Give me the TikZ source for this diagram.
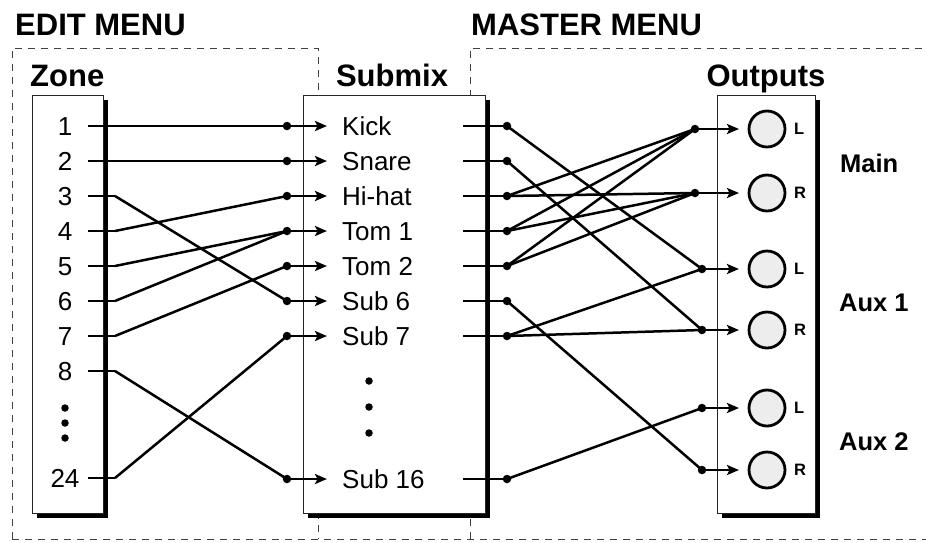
\documentclass[tikz,border=0pt]{standalone}
\usepackage{fontspec}
\setmainfont{Liberation Sans}
\usetikzlibrary{arrows.meta,shadows}
\begin{document}
\begin{tikzpicture}[x=1pt,y=-1pt,
  dashline/.style={draw=black!75, line width=0.9pt, dash pattern=on 7pt off 6pt},
  panel/.style={draw=black!85, line width=1pt, fill=white, anchor=north west, inner sep=0pt,
    drop shadow={shadow xshift=4.5pt, shadow yshift=-4.5pt, fill=black, opacity=1}},
  wire/.style={line width=2.5pt},
  arr/.style={line width=2.5pt, -{Stealth[length=12pt,width=10pt,inset=2.5pt]}},
  dot/.style={circle, fill=black, inner sep=0pt, minimum size=8.5pt},
  vdot/.style={circle, fill=black, inner sep=0pt, minimum size=7.5pt},
  jack/.style={circle, draw=black, line width=2.8pt, fill=black!7, inner sep=0pt, minimum size=36pt},
  num/.style={font=\fontsize{26}{28}\selectfont, inner sep=0pt, anchor=base},
  lbl/.style={font=\fontsize{26}{28}\selectfont, inner sep=0pt, anchor=base west},
  head/.style={font=\bfseries\fontsize{31}{33}\selectfont, inner sep=0pt},
  grp/.style={font=\bfseries\fontsize{25.5}{27}\selectfont, inner sep=0pt, anchor=base west},
  lr/.style={font=\bfseries\fontsize{16.5}{18}\selectfont, inner sep=0pt, anchor=base west}]
\useasboundingbox (0,0) rectangle (926,542);
% dashed menu frames
\coordinate (eBL) at (12,539); \coordinate (eTL) at (12,48);
\coordinate (eTR) at (318,48); \coordinate (eBR) at (318,539);
\coordinate (mBL) at (470,539); \coordinate (mTL) at (470,48);
\coordinate (mTR) at (926,48); \coordinate (mBR) at (926,539);
\draw[dashline] (eBL) -- (eTL) -- (eTR) -- (eBR);
\draw[dashline] (mBL) -- (mTL) -- (mTR);
\draw[dashline] (eBL) -- (mBR);
% headings
\node[head, anchor=base west] (editmenu) at (15,35) {EDIT MENU};
\node[head, anchor=base west] (mastermenu) at (471,35) {MASTER MENU};
\node[head, anchor=base west] (zonehead) at (30,86) {Zone};
\node[head, anchor=base] (submixhead) at (392,86.5) {Submix};
\node[head, anchor=base] (outhead) at (766,86) {Outputs};
% panels
\node[panel, minimum width=71pt, minimum height=418.3pt] (zonebox) at (31.7,95) {};
\node[panel, minimum width=182pt, minimum height=418.3pt] (submixbox) at (302.7,95) {};
\node[panel, minimum width=97.7pt, minimum height=418.3pt] (outbox) at (717.3,95) {};
% zones
\foreach \n/\y in {1/126,2/161,3/196,4/231,5/266,6/301,7/336,8/371,24/478}{
  \node[num] (zn\n) at (65,\y+9.3) {\n};
  \coordinate (zs\n) at (88,\y);
  \coordinate (ze\n) at (115,\y);
  \draw[wire] (zs\n) -- (ze\n);
}
\node[vdot] (zd1) at (65,408) {};
\node[vdot] (zd2) at (65,423) {};
\node[vdot] (zd3) at (65,438) {};
% submix channels
\foreach \i/\t/\y in {1/Kick/126,2/Snare/161,3/Hi-hat/196,4/Tom 1/231,5/Tom 2/266,6/Sub 6/301,7/Sub 7/336,16/Sub 16/479}{
  \node[dot] (sin\i) at (287,\y) {};
  \coordinate (sarr\i) at (327,\y);
  \draw[arr] (sin\i.center) -- (sarr\i);
  \node[lbl] (sl\i) at (342,\y+9.3) {\t};
  \coordinate (sos\i) at (463,\y);
  \node[dot] (sout\i) at (507,\y) {};
  \draw[wire] (sos\i) -- (sout\i.center);
}
\node[vdot] (sd1) at (369,381) {};
\node[vdot] (sd2) at (369,407) {};
\node[vdot] (sd3) at (369,433) {};
% zone -> submix
\draw[wire] (ze1) -- (sin1.center);
\draw[wire] (ze2) -- (sin2.center);
\draw[wire] (ze3) -- (sin6.center);
\draw[wire] (ze4) -- (sin3.center);
\draw[wire] (ze5) -- (sin4.center);
\draw[wire] (ze6) -- (sin4.center);
\draw[wire] (ze7) -- (sin5.center);
\draw[wire] (ze8) -- (sin16.center);
\draw[wire] (ze24) -- (sin7.center);
% outputs
\foreach \k/\x/\y/\s in {ML/695/129/L,MR/695/193/R,AL/702/269/L,AR/702/330/R,BL/702/408/L,BR/702/470/R}{
  \node[dot] (od\k) at (\x,\y) {};
  \coordinate (ot\k) at (739,\y);
  \draw[arr] (od\k.center) -- (ot\k);
  \node[jack] (j\k) at (767,\y) {};
  \node[lr] (lr\k) at (794,\y+5.9) {\s};
}
\node[grp] (gmain) at (840,172) {Main};
\node[grp] (gaux1) at (839,311) {Aux 1};
\node[grp] (gaux2) at (839,450.4) {Aux 2};
% submix -> outputs
\draw[wire] (sout1.center) -- (odAL.center);
\draw[wire] (sout2.center) -- (odAR.center);
\foreach \i in {3,4,5}{
  \draw[wire] (sout\i.center) -- (odML.center);
  \draw[wire] (sout\i.center) -- (odMR.center);
}
\draw[wire] (sout6.center) -- (odBR.center);
\draw[wire] (sout7.center) -- (odAL.center);
\draw[wire] (sout7.center) -- (odAR.center);
\draw[wire] (sout16.center) -- (odBL.center);
\end{tikzpicture}
\end{document}
